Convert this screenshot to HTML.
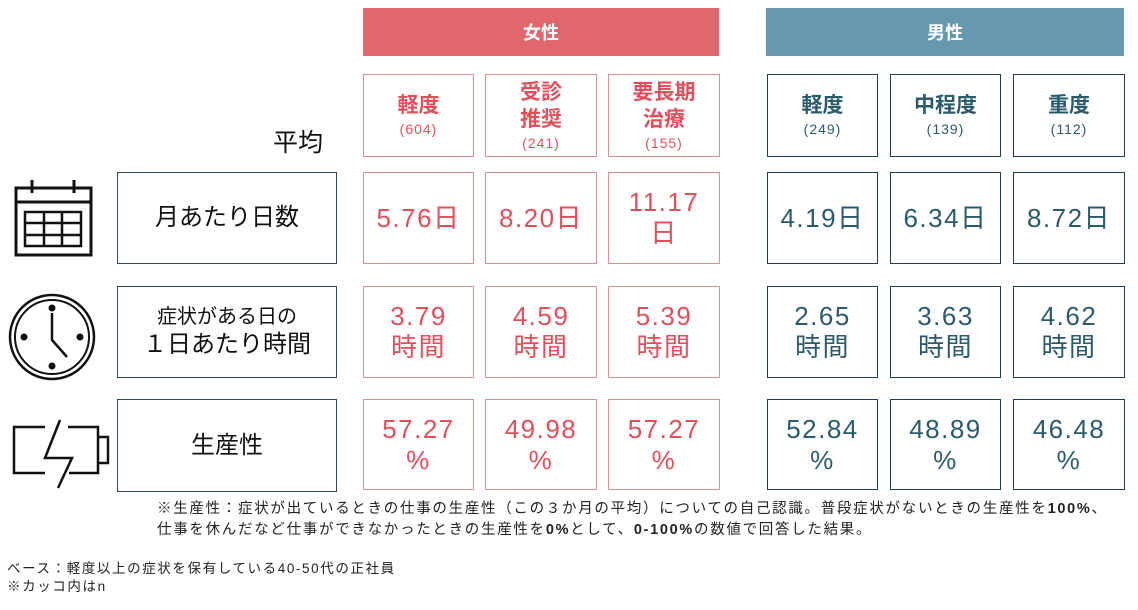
<!DOCTYPE html>
<html><head><meta charset="utf-8"><style>
body{margin:0;width:1138px;height:610px;background:#fff;position:relative;overflow:hidden;font-family:"Liberation Sans","Noto Sans CJK JP",sans-serif}
.a{position:absolute;box-sizing:border-box;display:flex;flex-direction:column;align-items:center;justify-content:center;text-align:center}
.hd{color:#fff;font-weight:bold;font-size:18px}
.f{border:1.5px solid #d98f95;color:#e0505b}
.m{border:1.5px solid #203f4a;color:#2b5b6b}
.ch b{font-size:21px;line-height:27px}
.ch span{font-size:14px;line-height:20px;letter-spacing:1px}
.v{font-size:26px;line-height:31px;letter-spacing:1.5px}
.lb{border:1.5px solid #2b4a55;color:#111;font-size:24px;line-height:30px}
.t{position:absolute;color:#222;white-space:nowrap}
</style></head><body>
<div class="a hd" style="left:363px;top:8px;width:356px;height:48px;background:#e0676c">女性</div>
<div class="a hd" style="left:766px;top:8px;width:358px;height:48px;background:#6499b0">男性</div>
<div class="t" style="left:273px;top:123px;font-size:25px;color:#111">平均</div>

<div class="a f ch" style="left:363px;top:74px;width:111px;height:83px"><b>軽度</b><span>(604)</span></div>
<div class="a f ch" style="left:485px;top:74px;width:112px;height:83px"><b>受診<br>推奨</b><span>(241)</span></div>
<div class="a f ch" style="left:608px;top:74px;width:112px;height:83px"><b>要長期<br>治療</b><span>(155)</span></div>
<div class="a m ch" style="left:767px;top:74px;width:111px;height:83px"><b>軽度</b><span>(249)</span></div>
<div class="a m ch" style="left:890px;top:74px;width:111px;height:83px"><b>中程度</b><span>(139)</span></div>
<div class="a m ch" style="left:1013px;top:74px;width:112px;height:83px"><b>重度</b><span>(112)</span></div>

<div class="a lb" style="left:117px;top:172px;width:220px;height:92px">月あたり日数</div>
<div class="a lb" style="left:117px;top:286px;width:220px;height:92px"><span style="font-size:20px;line-height:26px">症状がある日の</span>１日あたり時間</div>
<div class="a lb" style="left:117px;top:399px;width:220px;height:93px">生産性</div>

<div class="a f v" style="left:363px;top:172px;width:111px;height:92px">5.76日</div>
<div class="a f v" style="left:485px;top:172px;width:112px;height:92px">8.20日</div>
<div class="a f v" style="left:608px;top:172px;width:112px;height:92px">11.17<br>日</div>
<div class="a m v" style="left:767px;top:172px;width:111px;height:92px">4.19日</div>
<div class="a m v" style="left:890px;top:172px;width:111px;height:92px">6.34日</div>
<div class="a m v" style="left:1013px;top:172px;width:112px;height:92px">8.72日</div>

<div class="a f v" style="left:363px;top:286px;width:111px;height:92px">3.79<br>時間</div>
<div class="a f v" style="left:485px;top:286px;width:112px;height:92px">4.59<br>時間</div>
<div class="a f v" style="left:608px;top:286px;width:112px;height:92px">5.39<br>時間</div>
<div class="a m v" style="left:767px;top:286px;width:111px;height:92px">2.65<br>時間</div>
<div class="a m v" style="left:890px;top:286px;width:111px;height:92px">3.63<br>時間</div>
<div class="a m v" style="left:1013px;top:286px;width:112px;height:92px">4.62<br>時間</div>

<div class="a f v" style="left:363px;top:399px;width:111px;height:91px">57.27<br>%</div>
<div class="a f v" style="left:485px;top:399px;width:112px;height:91px">49.98<br>%</div>
<div class="a f v" style="left:608px;top:399px;width:112px;height:91px">57.27<br>%</div>
<div class="a m v" style="left:767px;top:399px;width:111px;height:91px">52.84<br>%</div>
<div class="a m v" style="left:890px;top:399px;width:111px;height:91px">48.89<br>%</div>
<div class="a m v" style="left:1013px;top:399px;width:112px;height:91px">46.48<br>%</div>

<svg style="position:absolute;left:0;top:170px" width="115" height="330" fill="none" stroke="#111" stroke-width="3">
<rect x="16" y="18" width="75" height="67"/><line x1="16" y1="32" x2="91" y2="32"/>
<line x1="32" y1="10" x2="32" y2="23"/><line x1="74" y1="10" x2="74" y2="23"/>
<rect x="25" y="42" width="56" height="34" stroke-width="2.5"/>
<line x1="25" y1="53" x2="81" y2="53" stroke-width="2.5"/><line x1="25" y1="65" x2="81" y2="65" stroke-width="2.5"/>
<line x1="44" y1="42" x2="44" y2="76" stroke-width="2.5"/><line x1="62" y1="42" x2="62" y2="76" stroke-width="2.5"/>
<circle cx="52" cy="167" r="42" stroke-width="2.5"/><circle cx="52" cy="167" r="37" stroke-width="2"/>
<polyline points="52,143 52,170 67,187" stroke-width="2.5"/>
<circle cx="52" cy="138" r="2" fill="#111"/><circle cx="52" cy="196" r="2" fill="#111"/><circle cx="24" cy="167" r="2" fill="#111"/><circle cx="80" cy="167" r="2" fill="#111"/>
<path d="M45 257 H14 V303 H45 M68 257 H98 V303 H69 M98 267 H108 V293 H98" stroke-width="2.5"/>
<path d="M60 250 L45 288 H72 L58 318" stroke-width="2.5"/>
</svg>

<div class="t" style="left:157px;top:499px;font-size:14.5px;line-height:21px;letter-spacing:1.7px">※生産性：症状が出ているときの仕事の生産性（この３か月の平均）についての自己認識。普段症状がないときの生産性を<b>100%</b>、<br>仕事を休んだなど仕事ができなかったときの生産性を<b>0%</b>として、<b>0-100%</b>の数値で回答した結果。</div>
<div class="t" style="left:7px;top:560px;font-size:13.5px;line-height:18px;letter-spacing:1.6px">ベース：軽度以上の症状を保有している40-50代の正社員<br>※カッコ内はn</div>
</body></html>
